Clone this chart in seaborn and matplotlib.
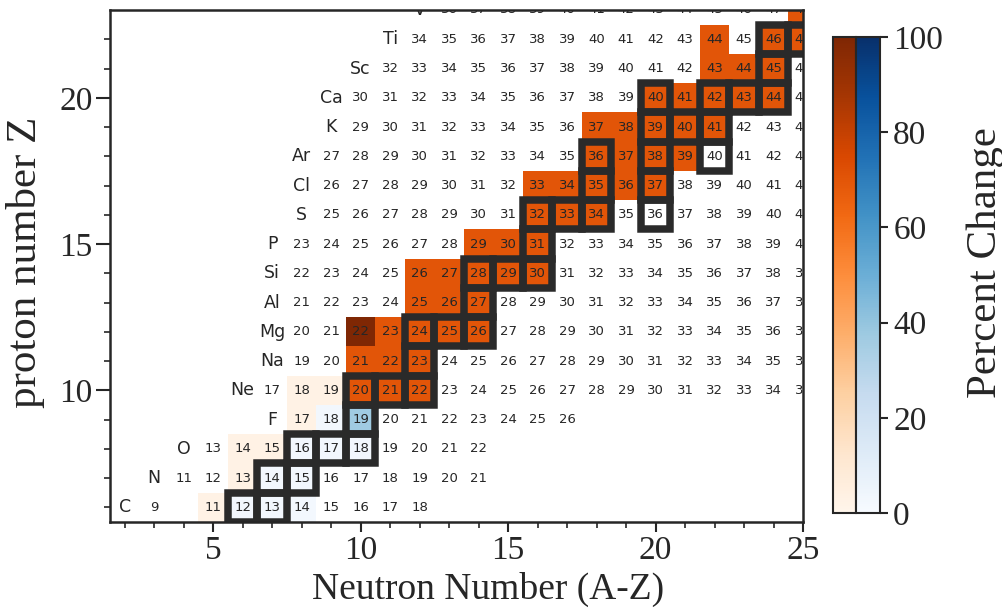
import numpy as np
import pandas as pd
import matplotlib
matplotlib.use("Agg")
import matplotlib.pyplot as plt
from matplotlib.patches import Rectangle
import seaborn as sns

# ---------------- data ----------------
elements = ["C", "N", "O", "F", "Ne", "Na", "Mg", "Al", "Si", "P", "S", "Cl",
            "Ar", "K", "Ca", "Sc", "Ti", "V"]
proton_Z = [6, 7, 8, 9, 10, 11, 12, 13, 14, 15, 16, 17, 18, 19, 20, 21, 22, 23]
mass_first = [9, 11, 13, 17, 17, 19, 20, 21, 22, 23, 25, 26, 27, 29, 30, 32, 34, 36]
mass_last = [18, 21, 22, 26, 35, 36, 37, 38, 39, 40, 41, 42, 43, 44, 45, 46, 47, 48]
missing_Z = [6]
missing_A = [10]

# naturally occurring (outlined) isotopes
stable_Z = [6, 6, 7, 7, 8, 8, 8, 9, 10, 10, 10, 11, 12, 12, 12, 13, 14, 14, 14, 15,
            16, 16, 16, 16, 17, 17, 18, 18, 18, 19, 19, 19, 20, 20, 20, 20, 21, 22, 22]
stable_A = [12, 13, 14, 15, 16, 17, 18, 19, 20, 21, 22, 23, 24, 25, 26, 27, 28, 29, 30, 31,
            32, 33, 34, 36, 35, 37, 36, 38, 40, 39, 40, 41, 40, 42, 43, 44, 45, 46, 47]

# percent change, orange scale
orange_Z = [6, 7, 8, 8, 9, 10, 10, 10, 10, 10, 11, 11, 11, 12, 12, 12, 12, 12,
            13, 13, 13, 14, 14, 14, 14, 14, 15, 15, 15, 16, 16, 16,
            17, 17, 17, 17, 17, 18, 18, 18, 18, 19, 19, 19, 19, 19,
            20, 20, 20, 20, 20, 21, 21, 21, 22, 22, 22, 23]
orange_A = [11, 13, 14, 15, 17, 18, 19, 20, 21, 22, 21, 22, 23, 22, 23, 24, 25, 26,
            25, 26, 27, 26, 27, 28, 29, 30, 29, 30, 31, 32, 33, 34,
            33, 34, 35, 36, 37, 36, 37, 38, 39, 37, 38, 39, 40, 41,
            40, 41, 42, 43, 44, 43, 44, 45, 44, 46, 47, 48]
orange_val = [3, 3, 3, 3, 3, 3, 3, 70, 70, 70, 70, 70, 70, 100, 70, 70, 70, 70,
              70, 70, 70, 70, 70, 70, 70, 70, 70, 70, 70, 70, 70, 70,
              70, 70, 70, 70, 70, 70, 70, 70, 70, 70, 70, 70, 70, 70,
              70, 70, 70, 70, 70, 70, 70, 70, 70, 70, 70, 70]

# percent change, blue scale
blue_Z = [6, 6, 6, 7, 7, 8, 8, 8, 9, 9]
blue_A = [12, 13, 14, 14, 15, 16, 17, 18, 18, 19]
blue_val = [3, 3, 2, 3, 3, 3, 3, 3, 3, 37]

N_cols = list(range(1, 27))
Z_rows = list(range(5, 24))

# ---------------- style ----------------
sns.set_style("ticks")
plt.rcParams["font.family"] = ["Liberation Serif", "DejaVu Serif"]
dark = "#262626"

fig = plt.figure(figsize=(10.03, 6.09), dpi=100)
ax = fig.add_axes([0.1097, 0.1429, 0.6909, 0.8407])
cax1 = fig.add_axes([0.8305, 0.1576, 0.0229, 0.7816])
cax2 = fig.add_axes([0.8534, 0.1576, 0.0239, 0.7816])


def nx(n):
    return n - N_cols[0] + 0.5


def zy(z):
    return z - Z_rows[0] + 0.5


orange_df = pd.DataFrame(np.nan, index=Z_rows, columns=N_cols)
for z, a, v in zip(orange_Z, orange_A, orange_val):
    orange_df.loc[z, a - z] = v
blue_df = pd.DataFrame(np.nan, index=Z_rows, columns=N_cols)
for z, a, v in zip(blue_Z, blue_A, blue_val):
    blue_df.loc[z, a - z] = v

sns.heatmap(orange_df, ax=ax, cmap="Oranges", vmin=0, vmax=100, cbar=True,
            cbar_ax=cax1, xticklabels=False, yticklabels=False)
sns.heatmap(blue_df, ax=ax, cmap="Blues", vmin=0, vmax=100, cbar=True,
            cbar_ax=cax2, xticklabels=False, yticklabels=False)

ax.set_xlim(nx(1.5), nx(25))
ax.set_ylim(zy(5.5), zy(23))

# outlines of naturally occurring isotopes
for z, a in zip(stable_Z, stable_A):
    n = a - z
    ax.add_patch(Rectangle((nx(n) - 0.5, zy(z) - 0.5), 1, 1, fill=False,
                           edgecolor="#2a2a2a", linewidth=5.4, zorder=3,
                           joinstyle="miter"))

# labels
for sym, z, a0, a1 in zip(elements, proton_Z, mass_first, mass_last):
    ax.text(nx(a0 - z - 1), zy(z), sym, ha="center", va="center",
            fontsize=12.5, color=dark, family="DejaVu Sans", clip_on=True, zorder=4)
    for a in range(a0, a1 + 1):
        if any(mz == z and ma == a for mz, ma in zip(missing_Z, missing_A)):
            continue
        ax.text(nx(a - z), zy(z), str(a), ha="center", va="center",
                fontsize=9.5, color=dark, family="DejaVu Sans", clip_on=True, zorder=4)

# axes styling
for s in ax.spines.values():
    s.set_visible(True)
    s.set_linewidth(1.8)
    s.set_color(dark)
    s.set_zorder(5)

ax.set_xticks([nx(v) for v in [5, 10, 15, 20, 25]])
ax.set_xticklabels(["5", "10", "15", "20", "25"])
ax.set_xticks([nx(v) for v in range(2, 25)], minor=True)
ax.set_yticks([zy(v) for v in [10, 15, 20]])
ax.set_yticklabels(["10", "15", "20"])
ax.set_yticks([zy(v) for v in range(6, 23)], minor=True)
ax.tick_params(axis="x", which="major", direction="out", length=7, width=1.5,
               colors=dark, labelsize=24, bottom=True, pad=2.5)
ax.tick_params(axis="y", which="major", direction="out", length=10, width=1.5,
               colors=dark, labelsize=24, left=True, pad=2.5)
ax.tick_params(which="minor", direction="out", length=4, width=1.2, colors=dark,
               bottom=True, left=True)
for lab in ax.get_xticklabels() + ax.get_yticklabels():
    lab.set_rotation(0)

ax.set_xlabel("Neutron Number (A-Z)", fontsize=27, color=dark)
ax.xaxis.set_label_coords(0.545, -0.098)
ax.set_ylabel("proton number Z", fontsize=31, color=dark)
ax.yaxis.set_label_coords(-0.094, 0.507)

# colorbars
cb1 = ax.collections[0].colorbar
cb2 = ax.collections[1].colorbar
for cb in (cb1, cb2):
    cb.outline.set_linewidth(1.5)
    cb.outline.set_edgecolor(dark)
cb1.set_ticks([])
cax1.tick_params(left=False, right=False, labelleft=False, labelright=False)
cb2.set_ticks([0, 20, 40, 60, 80, 100])
cax2.tick_params(direction="out", length=6, width=1.5, colors=dark, labelsize=24,
                 right=True, labelright=True)
cb2.set_label("Percent Change", fontsize=31, color=dark)
cax2.yaxis.set_label_coords(4.6, 0.527)

fig.savefig("out.png", dpi=100)
